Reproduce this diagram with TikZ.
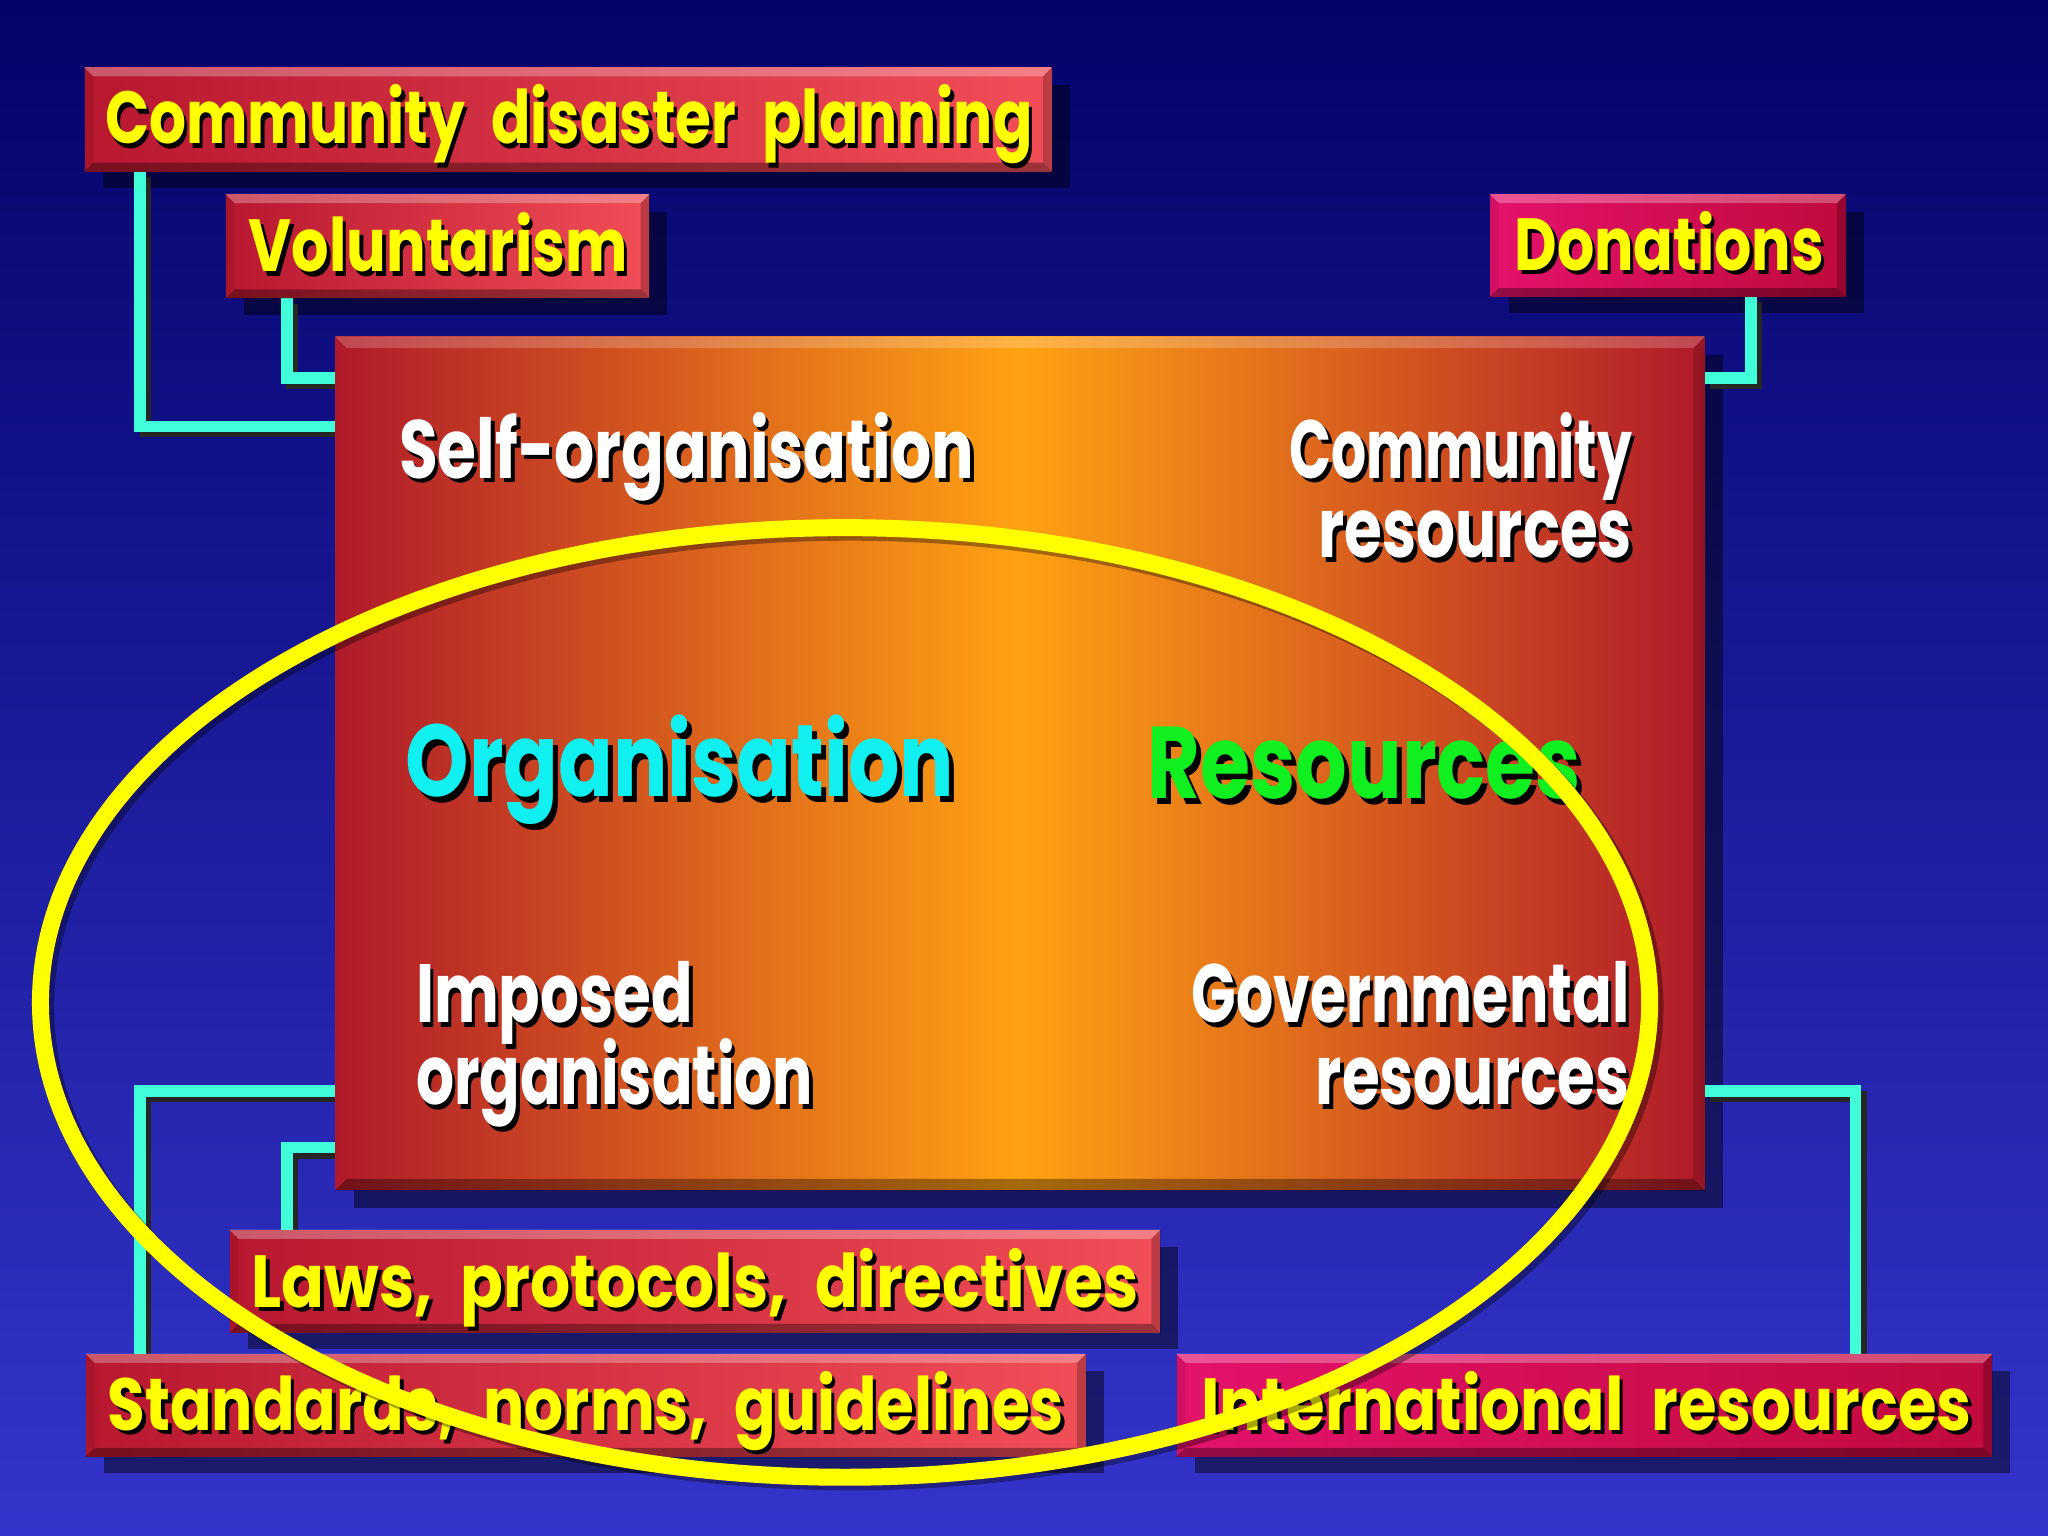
\documentclass[tikz,border=0pt]{standalone}
\usepackage{fontspec}
\setmainfont{Poppins}
\usetikzlibrary{calc,fit}
\pgfdeclarelayer{back}
\pgfsetlayers{back,main}
\newlength\ux \setlength\ux{0.013061cm}
\definecolor{bgtop}{HTML}{03036A}
\definecolor{bgbot}{HTML}{3434CC}
\definecolor{cyanl}{HTML}{40FFD8}
\definecolor{labyel}{HTML}{FFFF00}
\definecolor{redL}{HTML}{B81830}
\definecolor{redR}{HTML}{F24E58}
\definecolor{magL}{HTML}{E4126C}
\definecolor{magR}{HTML}{C00A3C}
\definecolor{mainR}{HTML}{B01A2A}
\definecolor{mainO}{HTML}{FFA212}
\definecolor{orgcyan}{HTML}{10F0F0}
\definecolor{resgreen}{HTML}{10F020}
\newcommand\sh[2]{\leavevmode\rlap{\color{black}\kern0.06em\raisebox{-0.06em}{#2}}{\color{#1}#2}}
\newcommand\ft[3]{\resizebox{#1\ux}{\height}{\fontsize{#2}{#2}\selectfont\bfseries\spaceskip=0.45em #3}}
\tikzset{
  conn/.style={draw=cyanl, line width=9\ux},
  connsh/.style={draw=black!85, line width=9\ux, transform canvas={shift={(4\ux,-4\ux)}}},
  txt/.style={inner sep=0pt},
  boxshadow/.style={fill=black, opacity=.45},
}
% name, x1, y1, x2, y2, left colour, right colour
\newcommand\bbox[7]{%
  \begin{pgfonlayer}{back}
    \fill[boxshadow] (#2+14,#3+13) rectangle (#4+14,#5+13);
  \end{pgfonlayer}
  \node[fit={(#2,#3) (#4,#5)}, inner sep=0pt, left color=#6, right color=#7] (#1) {};
  \fill[white,opacity=.28] (#1.north west) -- (#1.north east) -- ($(#1.north east)+(-7,7)$) -- ($(#1.north west)+(7,7)$) -- cycle;
  \fill[black,opacity=.35] (#1.south west) -- (#1.south east) -- ($(#1.south east)+(-7,-7)$) -- ($(#1.south west)+(7,-7)$) -- cycle;
  \fill[black,opacity=.22] (#1.north east) -- (#1.south east) -- ($(#1.south east)+(-7,-7)$) -- ($(#1.north east)+(-7,7)$) -- cycle;
  \fill[black,opacity=.08] (#1.north west) -- (#1.south west) -- ($(#1.south west)+(7,-7)$) -- ($(#1.north west)+(7,7)$) -- cycle;
}
\begin{document}
\begin{tikzpicture}[x=0.013061cm, y=-0.013061cm]
\begin{pgfonlayer}{back}
  \shade[top color=bgtop, bottom color=bgbot] (0,0) rectangle (1568,1176);
\end{pgfonlayer}
\useasboundingbox (0,0) rectangle (1568,1176);

% main box
\begin{pgfonlayer}{back}
  \fill[boxshadow] (271,272) rectangle (1319,925);
\end{pgfonlayer}
\node[fit={(257,258) (1305,911)}, inner sep=0pt, left color=mainR, right color=mainR, middle color=mainO] (main) {};
\fill[white,opacity=.2] (main.north west) -- (main.north east) -- ($(main.north east)+(-9,9)$) -- ($(main.north west)+(9,9)$) -- cycle;
\fill[black,opacity=.35] (main.south west) -- (main.south east) -- ($(main.south east)+(-9,-9)$) -- ($(main.south west)+(9,-9)$) -- cycle;
\fill[black,opacity=.15] (main.north east) -- (main.south east) -- ($(main.south east)+(-9,-9)$) -- ($(main.north east)+(-9,9)$) -- cycle;

% label boxes
\bbox{cdp}{65}{52}{805}{131}{redL}{redR}
\bbox{vol}{173}{149}{497}{228}{redL}{redR}
\bbox{don}{1141}{149}{1413}{227}{magL}{magR}
\bbox{laws}{176}{942}{888}{1020}{redL}{redR}
\bbox{std}{66}{1037}{831}{1115}{redL}{redR}
\bbox{intl}{901}{1037}{1525}{1115}{magL}{magR}

% connectors
\begin{pgfonlayer}{back}
  \foreach \s in {connsh,conn}{
    \draw[\s] ($(cdp.south west)+(43,0)$) |- ($(main.north west)+(0,69)$);
    \draw[\s] ($(vol.south west)+(47,0)$) |- ($(main.north west)+(0,32)$);
    \draw[\s] ($(don.south east)+(-73,0)$) |- ($(main.north east)+(0,32)$);
    \draw[\s] ($(main.south west)+(0,-76)$) -| ($(std.north west)+(42,0)$);
    \draw[\s] ($(main.south west)+(0,-33)$) -| ($(laws.north west)+(44,0)$);
    \draw[\s] ($(main.south east)+(0,-76)$) -| ($(intl.north east)+(-105,0)$);
  }
\end{pgfonlayer}

% label texts
\node[txt, anchor=base west] (tcdp) at (80,110) {\ft{710}{21}{\sh{labyel}{Community disaster planning}}};
\node[txt, anchor=base west] (tvol) at (190,208) {\ft{290}{21}{\sh{labyel}{Voluntarism}}};
\node[txt, anchor=base west] (tdon) at (1159,207) {\ft{237}{21}{\sh{labyel}{Donations}}};
\node[txt, anchor=base west] (tlaws) at (192,1001) {\ft{679}{21}{\sh{labyel}{Laws, protocols, directives}}};
\node[txt, anchor=base west] (tstd) at (82,1095) {\ft{732}{21}{\sh{labyel}{Standards, norms, guidelines}}};
\node[txt, anchor=base west] (tintl) at (919,1095) {\ft{590}{21}{\sh{labyel}{International resources}}};

% main box texts
\node[txt, anchor=base west] (tself) at (305,366) {\ft{440}{23.5}{\sh{white}{Self-organisation}}};
\node[txt, anchor=base east] (tcom1) at (1250,366) {\ft{262}{23.5}{\sh{white}{Community}}};
\node[txt, anchor=base east] (tcom2) at (1250,427) {\ft{240}{23.5}{\sh{white}{resources}}};
\node[txt, anchor=base west] (torg) at (310,610) {\ft{420}{29}{\sh{orgcyan}{Organisation}}};
\node[txt, anchor=base west] (tres) at (878,611) {\ft{332}{29}{\sh{resgreen}{Resources}}};
\node[txt, anchor=base west] (timp1) at (318,783) {\ft{212}{23.5}{\sh{white}{Imposed}}};
\node[txt, anchor=base west] (timp2) at (318,846) {\ft{304}{23.5}{\sh{white}{organisation}}};
\node[txt, anchor=base east] (tgov1) at (1248,783) {\ft{335}{23.5}{\sh{white}{Governmental}}};
\node[txt, anchor=base east] (tgov2) at (1248,846) {\ft{240}{23.5}{\sh{white}{resources}}};

% ellipse
\draw[black, opacity=.35, line width=13\ux] (651,771) ellipse [x radius=8.046cm, y radius=4.748cm];
\draw[labyel, line width=13\ux] (647,767.5) ellipse [x radius=8.046cm, y radius=4.748cm];
\end{tikzpicture}
\end{document}
